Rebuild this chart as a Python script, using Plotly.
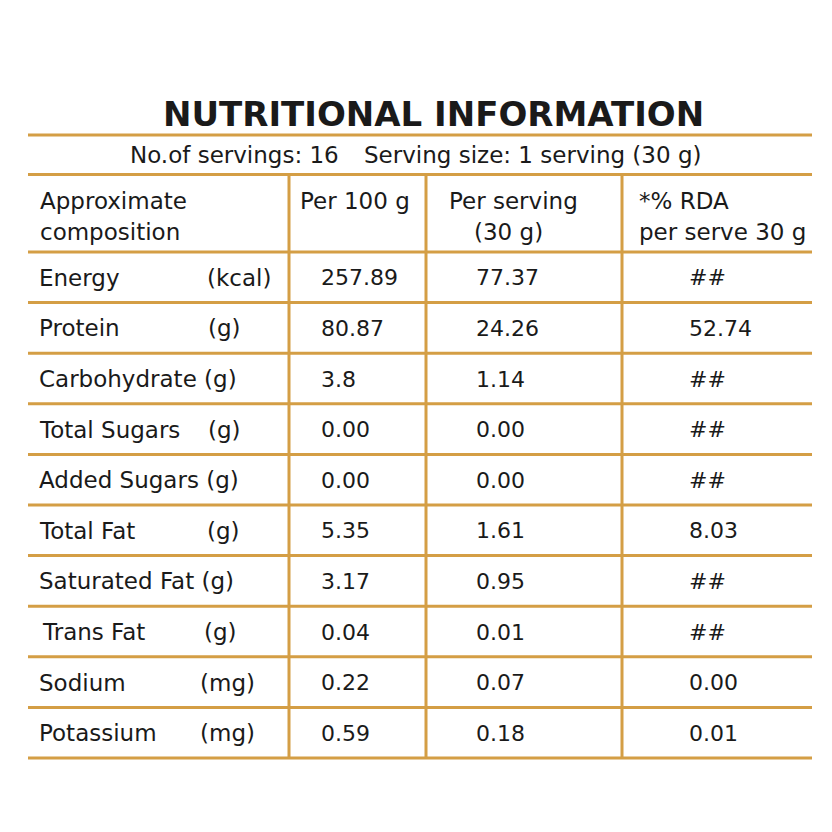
import plotly.graph_objects as go

# ---------------- data ----------------
title = "NUTRITIONAL INFORMATION"
servings_text = "No.of servings: 16"
serving_size_text = "Serving size: 1 serving (30 g)"
header_line1 = ["Approximate", "Per 100 g", "Per serving", "*% RDA"]
header_line2 = ["composition", "", "(30 g)", "per serve 30 g"]

nutrients = ["Energy", "Protein", "Carbohydrate (g)", "Total Sugars", "Added Sugars (g)",
             "Total Fat", "Saturated Fat (g)", "Trans Fat", "Sodium", "Potassium"]
units = ["(kcal)", "(g)", "", "(g)", "", "(g)", "", "(g)", "(mg)", "(mg)"]
per_100g = ["257.89", "80.87", "3.8", "0.00", "0.00", "5.35", "3.17", "0.04", "0.22", "0.59"]
per_serving = ["77.37", "24.26", "1.14", "0.00", "0.00", "1.61", "0.95", "0.01", "0.07", "0.18"]
rda = ["##", "52.74", "##", "##", "##", "8.03", "##", "##", "0.00", "0.01"]

# ---------------- layout / style ----------------
PAGE = 832
OFF = 8            # default body margin of the html page
FIG = PAGE - 2 * OFF
GOLD = "#D49E45"
TXT = "#1a1a1a"
FONT = "DejaVu Sans"
FS = 23
FS_NUM = 22

x_left, x_right = 28, 812
col_lines = [289, 426, 622]
y_title_line, y_sub_line, y_head_line = 135, 174.5, 252
row_h = 50.6
n = len(nutrients)
row_top = [y_head_line + i * row_h for i in range(n + 1)]

unit_x = [205, 206, 0, 206, 0, 205, 0, 202, 198, 198]
label_x = [37, 37, 37, 37, 37, 37, 37, 40, 37, 37]
col_x = [319, 474, 687]
head_x1 = [38, 298, 447, 637]
head_x2 = [38, 298, 472, 637]

fig = go.Figure()
fig.add_trace(go.Scatter(x=[OFF, PAGE - OFF], y=[OFF, PAGE - OFF], mode="markers",
                         marker=dict(opacity=0), hoverinfo="skip", showlegend=False))

shapes = []
for y in [y_title_line, y_sub_line] + row_top:
    shapes.append(dict(type="line", x0=x_left, x1=x_right, y0=y, y1=y, line=dict(color=GOLD, width=3)))
for x in col_lines:
    shapes.append(dict(type="line", x0=x, x1=x, y0=y_sub_line, y1=row_top[-1], line=dict(color=GOLD, width=3)))

ann = []
def add(text, x, y, size=FS, xanchor="left", weight=None):
    f = dict(family=FONT, size=size, color=TXT)
    if weight:
        f["weight"] = weight
    ann.append(dict(text=text, x=x, y=y, xref="x", yref="y", showarrow=False,
                    xanchor=xanchor, yanchor="middle", font=f, align="left"))

add(title, 433, 114, size=34, xanchor="center", weight=700)
add(servings_text, 128, 155)
add(serving_size_text, 362, 155)

for t, x in zip(header_line1, head_x1):
    add(t, x, 201)
for t, x in zip(header_line2, head_x2):
    if t:
        add(t, x, 232)

for i in range(n):
    yc = (row_top[i] + row_top[i + 1]) / 2 + 0.5
    add(nutrients[i], label_x[i], yc)
    if units[i]:
        add(units[i], unit_x[i], yc)
    add(per_100g[i], col_x[0], yc, size=FS_NUM)
    add(per_serving[i], col_x[1], yc, size=FS_NUM)
    add(rda[i], col_x[2], yc, size=FS_NUM)

fig.update_layout(
    width=FIG, height=FIG, margin=dict(l=0, r=0, t=0, b=0),
    paper_bgcolor="white", plot_bgcolor="white",
    xaxis=dict(range=[OFF, PAGE - OFF], visible=False, fixedrange=True),
    yaxis=dict(range=[PAGE - OFF, OFF], visible=False, fixedrange=True),
    shapes=shapes, annotations=ann,
)
fig.write_html("out.html")
